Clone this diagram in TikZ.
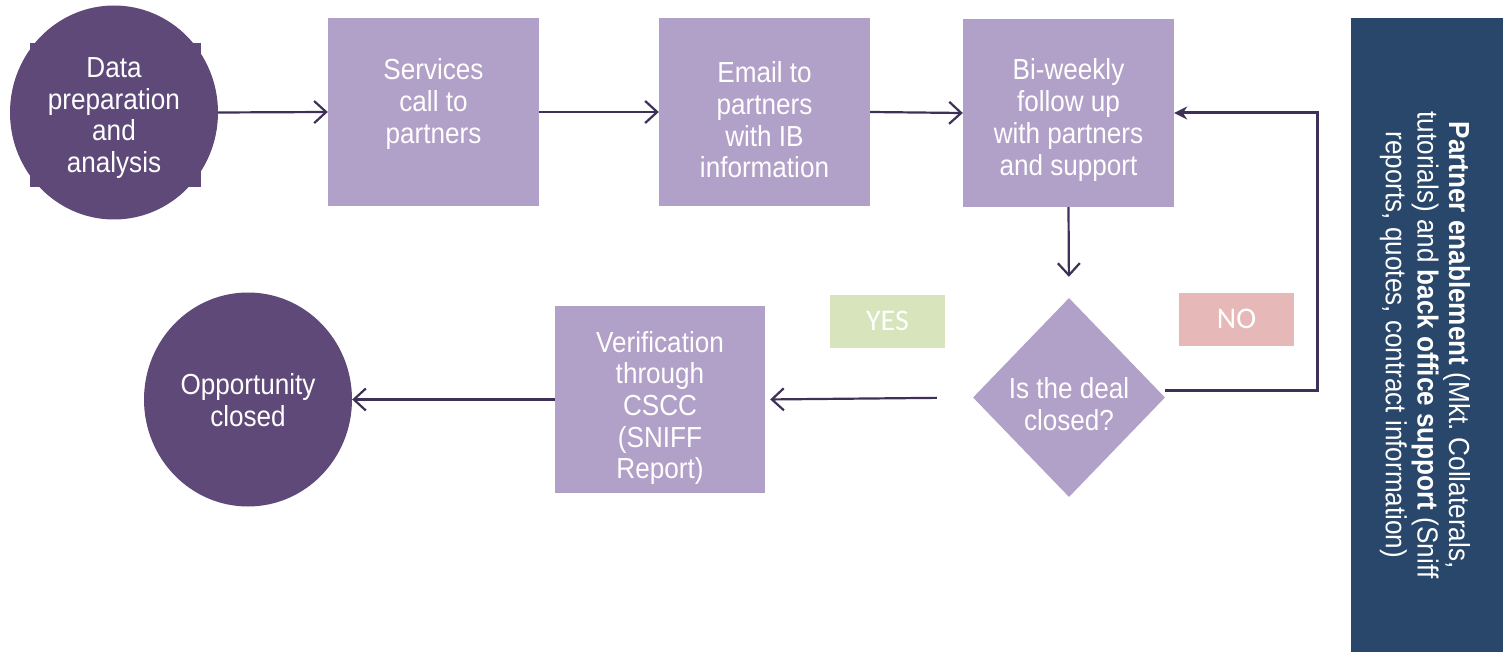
\documentclass[tikz,border=0pt]{standalone}
\usepackage{fontspec}
\setmainfont{Liberation Sans}[FakeStretch=0.9]
\newfontfamily\calib{Carlito}
\usetikzlibrary{shapes.geometric,arrows.meta}
\definecolor{darkp}{HTML}{5E4978}
\definecolor{lightp}{HTML}{B1A0C7}
\definecolor{navy}{HTML}{29476B}
\definecolor{yesg}{HTML}{D8E4BC}
\definecolor{nor}{HTML}{E6B9B8}
\definecolor{arr}{HTML}{3F3057}
\begin{document}
\begin{tikzpicture}[x=1pt,y=-1pt,
  procbox/.style={rectangle,fill=lightp,minimum width=211pt,minimum height=188pt,inner sep=0pt},
  bigcirc/.style={ellipse,fill=darkp,minimum width=208pt,minimum height=214pt,inner sep=0pt},
  lbl/.style={text=white,align=center,inner sep=0pt,font=\fontsize{29}{31.7}\selectfont},
  tag/.style={rectangle,minimum width=115pt,minimum height=53pt,inner sep=0pt,text=white,font=\calib\fontsize{30}{32}\selectfont},
  flow/.style={draw=arr,line width=2.2pt,-{Straight Barb[length=12pt,width=22pt,line width=2.2pt]}},
  loopflow/.style={draw=arr,line width=3pt,-{Stealth[length=13pt,width=13pt]}}
]
\useasboundingbox (0,0) rectangle (1503,652);
% first circle with square behind
\fill[darkp] (30,43) rectangle (201,187);
\node[bigcirc] (data) at (114,112.5) {};
\node[lbl] (datat) at (114,118) {Data\\preparation\\and\\analysis};
% boxes
\node[procbox] (serv) at (433.5,112) {};
\node[lbl] (servt) at (433.5,104) {Services\\call to\\partners};
\node[procbox] (email) at (764.5,112) {};
\node[lbl] (emailt) at (764.5,120) {Email to\\partners\\with IB\\information};
\node[procbox] (bw) at (1068.5,113) {};
\node[lbl] (bwt) at (1068.5,120) {Bi-weekly\\follow up\\with partners\\and support};
\node[diamond,fill=lightp,minimum width=192pt,minimum height=199pt,inner sep=0pt] (dec) at (1069,397.5) {};
\node[lbl] (dect) at (1069,404) {Is the deal\\closed?};
\node[rectangle,fill=lightp,minimum width=210pt,minimum height=187pt,inner sep=0pt] (ver) at (660,399.5) {};
\node[lbl] (vert) at (660,408) {Verification\\through\\CSCC\\(SNIFF\\Report)};
\node[bigcirc] (opp) at (248,399.5) {};
\node[lbl] (oppt) at (248,400) {Opportunity\\closed};
% tags
\node[tag,fill=yesg] (yes) at (887.5,321) {YES};
\node[tag,fill=nor] (no) at (1236.5,319) {NO};
% panel
\fill[navy] (1351,18) rectangle (1503,652);
\node[lbl,rotate=-90] (panelt) at (1425,345) {\textbf{Partner enablement} (Mkt.\ Collaterals,\\tutorials) and \textbf{back office support} (Sniff\\reports, quotes, contract information)};
% connectors
\draw[flow] (data.east) -- (serv.west);
\draw[flow] (serv.east) -- (email.west);
\draw[flow] (email.east) -- (bw.west);
\draw[flow,shorten >=21pt] (bw.south) -- (dec.north);
\draw[loopflow] ([yshift=7pt]dec.east) -- ++(152,0) |- (bw.east);
\draw[flow,shorten <=36pt,shorten >=5pt] (dec.west) -- (ver.east);
\draw[flow] (ver.west) -- (opp.east);
\end{tikzpicture}
\end{document}
